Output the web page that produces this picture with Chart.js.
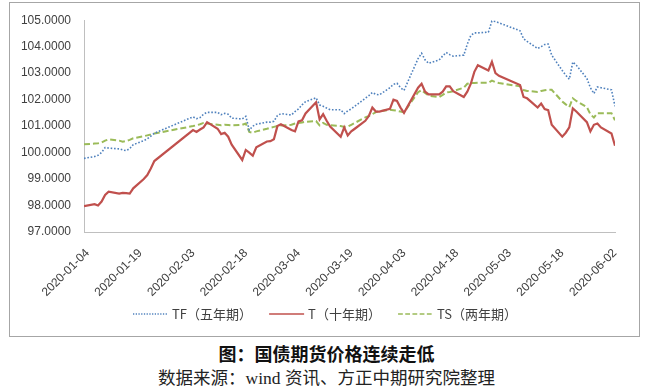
<!DOCTYPE html>
<html lang="zh">
<head>
    <meta charset="UTF-8">
    <title>国债期货价格连续走低</title>
    <script src="https://cdn.jsdelivr.net/npm/chart.js@4"></script>
    <style>
        body {
            margin: 0;
            background: #fff;
            width: 653px;
            height: 386px;
            position: relative;
            overflow: hidden;
        }
        .frame {
            position: absolute;
            left: 9px;
            top: 2px;
            width: 631px;
            height: 335px;
            border: 1px solid #a6a6a6;
            box-sizing: border-box;
        }
        #wrap {
            position: absolute;
            left: 0;
            top: 0;
            width: 653px;
            height: 338px;
        }
        .title {
            position: absolute;
            left: 0;
            width: 653px;
            top: 340px;
            text-align: center;
            font: bold 18px "Liberation Serif", "Noto Sans CJK SC", serif;
            color: #111;
        }
        .source {
            position: absolute;
            left: 0;
            width: 653px;
            top: 364px;
            text-align: center;
            font: 17.5px "Liberation Serif", "Noto Sans CJK SC", serif;
            color: #222;
        }
    </style>
</head>
<body>
    <div class="frame"></div>
    <div id="wrap"><canvas id="chart" width="653" height="338"></canvas></div>
    <div class="title">图：国债期货价格连续走低</div>
    <div class="source">数据来源：wind 资讯、方正中期研究院整理</div>

    <script>
        // trading days
        const dates = [
            '2020-01-03', '2020-01-06', '2020-01-07', '2020-01-08', '2020-01-09', '2020-01-10',
            '2020-01-13', '2020-01-14', '2020-01-15', '2020-01-16', '2020-01-17',
            '2020-01-20', '2020-01-21', '2020-01-22', '2020-01-23',
            '2020-02-03', '2020-02-04', '2020-02-05', '2020-02-06', '2020-02-07',
            '2020-02-10', '2020-02-11', '2020-02-12', '2020-02-13', '2020-02-14',
            '2020-02-17', '2020-02-18', '2020-02-19', '2020-02-20', '2020-02-21',
            '2020-02-24', '2020-02-25', '2020-02-26', '2020-02-27', '2020-02-28',
            '2020-03-02', '2020-03-03', '2020-03-04', '2020-03-05', '2020-03-06',
            '2020-03-09', '2020-03-10', '2020-03-11', '2020-03-12', '2020-03-13',
            '2020-03-16', '2020-03-17', '2020-03-18', '2020-03-19', '2020-03-20',
            '2020-03-23', '2020-03-24', '2020-03-25', '2020-03-26', '2020-03-27',
            '2020-03-30', '2020-03-31', '2020-04-01', '2020-04-02', '2020-04-03',
            '2020-04-07', '2020-04-08', '2020-04-09', '2020-04-10',
            '2020-04-13', '2020-04-14', '2020-04-15', '2020-04-16', '2020-04-17',
            '2020-04-20', '2020-04-21', '2020-04-22', '2020-04-23', '2020-04-24',
            '2020-04-27', '2020-04-28', '2020-04-29', '2020-04-30',
            '2020-05-06', '2020-05-07', '2020-05-08',
            '2020-05-11', '2020-05-12', '2020-05-13', '2020-05-14', '2020-05-15',
            '2020-05-18', '2020-05-19', '2020-05-20', '2020-05-21', '2020-05-22',
            '2020-05-25', '2020-05-26', '2020-05-27', '2020-05-28', '2020-05-29',
            '2020-06-01', '2020-06-02'
        ];

        const tfValues = [
            99.78, 99.85, 99.90, 100.00, 100.19, 100.17,
            100.14, 100.10, 100.07, 100.15, 100.30,
            100.45, 100.52, 100.62, 100.73,
            101.35, 101.28, 101.32, 101.45, 101.52,
            101.52, 101.43, 101.48, 101.45, 101.30,
            101.27, 101.37, 100.85, 101.00, 101.07,
            101.15, 101.15, 101.18, 101.40, 101.47,
            101.42, 101.55, 101.65, 101.80, 101.92,
            102.07, 101.80, 101.75, 101.68, 101.62,
            101.62, 101.47, 101.58, 101.65, 101.75,
            102.05, 102.15, 102.27, 102.20, 102.18,
            102.45, 102.58, 102.62, 102.45, 102.35,
            103.55, 103.75, 103.50, 103.37,
            103.50, 103.65, 103.78, 103.70, 103.64,
            103.68, 104.10, 104.42, 104.52, 104.52,
            104.55, 104.97, 104.95, 104.90,
            104.60, 104.30, 104.20,
            103.93, 104.00, 104.08, 104.10, 103.68,
            103.10, 102.92, 102.77, 103.42, 103.30,
            102.80, 102.45, 102.23, 102.48, 102.45,
            102.37, 101.75
        ];

        const tValues = [
            97.98, 98.05, 98.00, 98.15, 98.40, 98.52,
            98.45, 98.48, 98.47, 98.45, 98.65,
            99.00, 99.15, 99.40, 99.68,
            100.85, 100.78, 100.87, 100.95, 101.15,
            100.90, 100.70, 100.75, 100.60, 100.30,
            99.72, 100.10, 100.00, 99.88, 100.20,
            100.42, 100.43, 100.50, 101.00, 101.07,
            100.85, 100.80, 101.18, 101.22, 101.48,
            101.90, 101.25, 101.45, 101.20, 100.98,
            100.60, 100.95, 100.65, 100.80, 100.90,
            101.20, 101.38, 101.70, 101.55, 101.55,
            101.65, 102.00, 101.95, 101.70, 101.50,
            102.45, 102.60, 102.30, 102.20,
            102.20, 102.30, 102.50, 102.50, 102.32,
            102.10, 102.30, 102.60, 103.05, 103.30,
            103.10, 103.43, 103.00, 102.90,
            102.55, 102.10, 102.05,
            101.70, 101.85, 101.64, 101.60, 101.05,
            100.60, 100.75, 100.95, 101.67, 101.55,
            101.15, 100.80, 101.05, 101.10, 100.95,
            100.72, 100.26
        ];

        const tsValues = [
            100.31, 100.34, 100.35, 100.38, 100.45, 100.50,
            100.45, 100.41, 100.44, 100.48, 100.54,
            100.62, 100.65, 100.68, 100.72,
            101.00, 101.03, 101.07, 101.12, 101.10,
            101.05, 101.03, 101.05, 101.04, 101.03,
            101.05, 101.10, 100.78, 100.75, 100.80,
            100.90, 100.94, 100.97, 101.00, 101.02,
            101.05, 101.10, 101.12, 101.14, 101.16,
            101.19, 101.03, 101.12, 101.05, 101.03,
            101.00, 100.97, 100.98, 101.05, 101.12,
            101.33, 101.38, 101.45, 101.53, 101.56,
            101.62, 101.60, 101.58, 101.55, 101.52,
            102.28, 102.36, 102.25, 102.15,
            102.10, 102.18, 102.27, 102.29, 102.32,
            102.45, 102.60, 102.63, 102.63, 102.64,
            102.64, 102.72, 102.66, 102.63,
            102.50, 102.36, 102.33,
            102.29, 102.33, 102.35, 102.37, 102.37,
            101.93, 101.82, 101.72, 102.05, 101.95,
            101.72, 101.45, 101.32, 101.49, 101.49,
            101.49, 101.22
        ];

        // axis labels
        const xTickDates = [
            '2020-01-04', '2020-01-19', '2020-02-03', '2020-02-18', '2020-03-04', '2020-03-19',
            '2020-04-03', '2020-04-18', '2020-05-03', '2020-05-18', '2020-06-02'
        ];
        const yMin = 97;
        const yMax = 105;

        const seriesNames = ['TF（五年期）', 'T（十年期）', 'TS（两年期）'];

        const baseTime = Date.parse(xTickDates[0]);
        function dayOf(s) {
            return Math.round((Date.parse(s) - baseTime) / 86400000);
        }
        function toPoints(values) {
            return values.map((v, i) => ({ x: dayOf(dates[i]), y: v }));
        }

        const labelByDay = {};
        xTickDates.forEach(d => { labelByDay[dayOf(d)] = d; });

        // legend under the date labels: thin line sample + text, spread between two edges
        const lineLegend = {
            id: 'lineLegend',
            afterDraw(chart) {
                const c = chart.ctx;
                const y = 314, left = 133, right = 517;
                const sample = 35, textGap = 4;
                c.save();
                c.font = '13px "Noto Sans CJK SC", sans-serif';
                const widths = chart.data.datasets.map(ds => sample + textGap + c.measureText(ds.label).width);
                const used = widths.reduce((a, b) => a + b, 0);
                const gap = (right - left - used) / (widths.length - 1);
                let x = left;
                chart.data.datasets.forEach((ds, i) => {
                    c.strokeStyle = ds.borderColor;
                    c.lineWidth = ds.borderDash ? 1.3 : 1.6;
                    c.setLineDash(ds.borderDash ? ds.borderDash.map(v => v * 0.8) : []);
                    c.beginPath();
                    c.moveTo(x, y);
                    c.lineTo(x + sample, y);
                    c.stroke();
                    c.setLineDash([]);
                    c.fillStyle = '#404040';
                    c.textBaseline = 'middle';
                    c.fillText(ds.label, x + sample + textGap, y);
                    x += widths[i] + gap;
                });
                c.restore();
            }
        };

        const ctx = document.getElementById('chart').getContext('2d');
        new Chart(ctx, {
            type: 'line',
            data: {
                datasets: [{
                    label: seriesNames[0],
                    data: toPoints(tfValues),
                    borderColor: '#4f81bd',
                    backgroundColor: '#4f81bd',
                    borderWidth: 1.6,
                    borderDash: [1.6, 1.8]
                }, {
                    label: seriesNames[1],
                    data: toPoints(tValues),
                    borderColor: '#c0504d',
                    backgroundColor: '#c0504d',
                    borderWidth: 2.2
                }, {
                    label: seriesNames[2],
                    data: toPoints(tsValues),
                    borderColor: '#9bbb59',
                    backgroundColor: '#9bbb59',
                    borderWidth: 2,
                    borderDash: [6, 3]
                }]
            },
            options: {
                responsive: false,
                animation: false,
                layout: {
                    padding: { left: 0, right: 38, top: 16, bottom: 40 }
                },
                elements: {
                    point: { radius: 0 },
                    line: { tension: 0 }
                },
                plugins: {
                    tooltip: { enabled: false },
                    legend: { display: false }
                },
                scales: {
                    x: {
                        type: 'linear',
                        min: dayOf(dates[0]),
                        max: dayOf(dates[dates.length - 1]),
                        afterBuildTicks: (scale) => {
                            scale.ticks = xTickDates.map(d => ({ value: dayOf(d) }));
                        },
                        afterFit: (scale) => { scale.height = 66; },
                        grid: { display: false, drawTicks: false },
                        border: { display: true, color: '#bfbfbf', width: 1 },
                        ticks: {
                            autoSkip: false,
                            minRotation: 45,
                            maxRotation: 45,
                            padding: 14,
                            color: '#404040',
                            font: { family: '"Liberation Sans", sans-serif', size: 12 },
                            callback: (v) => labelByDay[v] || ''
                        }
                    },
                    y: {
                        min: yMin,
                        max: yMax,
                        afterFit: (scale) => { scale.width = 84; },
                        grid: { display: false, drawTicks: false },
                        border: { display: true, color: '#bfbfbf', width: 1 },
                        ticks: {
                            stepSize: 1,
                            padding: 13,
                            color: '#404040',
                            font: { family: '"Liberation Sans", sans-serif', size: 12 },
                            callback: (v) => Number(v).toFixed(4)
                        }
                    }
                }
            },
            plugins: [lineLegend]
        });
    </script>
</body>
</html>
